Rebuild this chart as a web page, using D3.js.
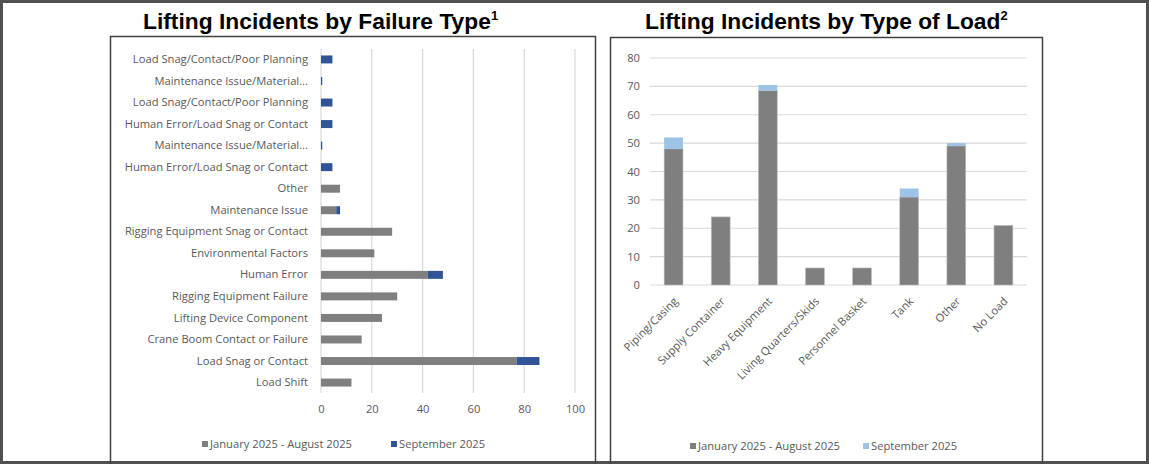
<!DOCTYPE html>
<html>
<head>
<meta charset="utf-8">
<style>
	body { margin: 0; background: #fff; }
	.lbl { font-family: "Open Sans", sans-serif; font-size: 11.2px; fill: #595959; }
	.title { font-family: "Liberation Sans", Arial, sans-serif; font-weight: bold; font-size: 22.8px; fill: #000; }
</style>
<script src="https://d3js.org/d3.v7.min.js"></script>
</head>
<body>
<svg width="1149" height="464"></svg>
<script>

// failure type chart (top to bottom)
var failureTypes = ["Load Snag/Contact/Poor Planning", "Maintenance Issue/Material...", "Load Snag/Contact/Poor Planning ",
	"Human Error/Load Snag or Contact", "Maintenance Issue/Material... ", "Human Error/Load Snag or Contact ",
	"Other", "Maintenance Issue", "Rigging Equipment Snag or Contact", "Environmental Factors", "Human Error",
	"Rigging Equipment Failure", "Lifting Device Component", "Crane Boom Contact or Failure", "Load Snag or Contact", "Load Shift"];
var failureJanAug = [0, 0, 0, 0, 0, 0, 7.5, 6, 28, 21, 42, 30, 24, 16, 77, 12];
var failureSep = [4.5, 0.5, 4.5, 4.5, 0.5, 4.5, 0, 1.5, 0, 0, 6, 0, 0, 0, 9, 0];
var failureTicks = [0, 20, 40, 60, 80, 100];

// load type chart
var loadTypes = ["Piping/Casing", "Supply Container", "Heavy Equipment", "Living Quarters/Skids", "Personnel Basket", "Tank", "Other", "No Load"];
var loadJanAug = [48, 24, 68.5, 6, 6, 31, 49, 21];
var loadSep = [4, 0, 2, 0, 0, 3, 1, 0];
var loadTicks = [0, 10, 20, 30, 40, 50, 60, 70, 80];

var seriesNames = ["January 2025 - August 2025", "September 2025"];
var gray = "#7f7f7f", darkBlue = "#2f5597", lightBlue = "#9dc3e6", grid = "#d9d9d9";

var svg = d3.select("svg");

// outer frame
svg.append("rect").attr("x", 1.5).attr("y", 1.5).attr("width", 1146).attr("height", 461)
	.attr("fill", "none").attr("stroke", "#4f5250").attr("stroke-width", 3);

// chart boxes
svg.append("rect").attr("x", 110.5).attr("y", 36.5).attr("width", 485).attr("height", 430)
	.attr("fill", "none").attr("stroke", "#404040").attr("stroke-width", 1.5);
svg.append("rect").attr("x", 610.5).attr("y", 37.5).attr("width", 432).attr("height", 430)
	.attr("fill", "none").attr("stroke", "#404040").attr("stroke-width", 1.5);

// titles
var t1 = svg.append("text").attr("class", "title").attr("x", 143).attr("y", 29);
t1.append("tspan").text("Lifting Incidents by Failure Type");
t1.append("tspan").attr("dy", -9).attr("font-size", 13).text("1");
var t2 = svg.append("text").attr("class", "title").attr("x", 645).attr("y", 29);
t2.append("tspan").text("Lifting Incidents by Type of Load");
t2.append("tspan").attr("dy", -9).attr("font-size", 13).text("2");

// ---- left: horizontal stacked bars ----
var x = d3.scaleLinear().domain([0, 100]).range([321, 575]);
var y = d3.scaleBand().domain(failureTypes).range([49, 393]).paddingInner(0.63).paddingOuter(0.3);

var g1 = svg.append("g");
g1.selectAll(".vgrid").data(failureTicks).enter().append("line")
	.attr("x1", function (d) { return x(d); })
	.attr("x2", function (d) { return x(d); })
	.attr("y1", 49).attr("y2", 393)
	.attr("stroke", grid).attr("stroke-width", 1.2);

var xAxis = g1.append("g").attr("transform", "translate(0,393)")
	.call(d3.axisBottom(x).tickValues(failureTicks).tickSize(0).tickPadding(12));
xAxis.select(".domain").remove();
xAxis.selectAll("text").attr("class", "lbl").attr("font-size", null).attr("font-family", null);

var yAxis = g1.append("g").attr("transform", "translate(308,0)")
	.call(d3.axisLeft(y).tickSize(0).tickPadding(0).tickFormat(function (d) { return d.trim(); }));
yAxis.select(".domain").remove();
yAxis.selectAll("text").attr("class", "lbl").attr("font-size", null).attr("font-family", null);

g1.selectAll(".barA").data(failureTypes).enter().append("rect")
	.attr("x", x(0))
	.attr("y", function (d) { return y(d); })
	.attr("width", function (d, i) { return x(failureJanAug[i]) - x(0); })
	.attr("height", y.bandwidth())
	.attr("fill", gray);
g1.selectAll(".barB").data(failureTypes).enter().append("rect")
	.attr("x", function (d, i) { return x(failureJanAug[i]); })
	.attr("y", function (d) { return y(d); })
	.attr("width", function (d, i) { return x(failureSep[i]) - x(0); })
	.attr("height", y.bandwidth())
	.attr("fill", darkBlue);

// legend left
var leg1 = svg.append("g");
[[202, gray, seriesNames[0]], [391, darkBlue, seriesNames[1]]].forEach(function (l) {
	leg1.append("rect").attr("x", l[0]).attr("y", 441).attr("width", 6).attr("height", 6).attr("fill", l[1]);
	leg1.append("text").attr("class", "lbl").attr("x", l[0] + 8).attr("y", 448).text(l[2]);
});

// ---- right: vertical stacked columns ----
var xb = d3.scaleBand().domain(loadTypes).range([650, 1027]).padding(0.6).paddingOuter(0.3);
var yb = d3.scaleLinear().domain([0, 80]).range([285, 58]);

var g2 = svg.append("g");
g2.selectAll(".hgrid").data(loadTicks).enter().append("line")
	.attr("x1", 650).attr("x2", 1027)
	.attr("y1", function (d) { return yb(d); })
	.attr("y2", function (d) { return yb(d); })
	.attr("stroke", grid).attr("stroke-width", 1.2);

var yAxis2 = g2.append("g").attr("transform", "translate(640,0)")
	.call(d3.axisLeft(yb).tickValues(loadTicks).tickSize(0).tickPadding(0));
yAxis2.select(".domain").remove();
yAxis2.selectAll("text").attr("class", "lbl").attr("font-size", null).attr("font-family", null);

var xAxis2 = g2.append("g").attr("transform", "translate(0,285)")
	.call(d3.axisBottom(xb).tickSize(0).tickPadding(0));
xAxis2.select(".domain").remove();
xAxis2.selectAll("text").attr("class", "lbl").attr("font-size", null).attr("font-family", null)
	.attr("text-anchor", "end").attr("dy", null).attr("y", 0)
	.attr("transform", "translate(5,17) rotate(-45)");

g2.selectAll(".colA").data(loadTypes).enter().append("rect")
	.attr("x", function (d) { return xb(d); })
	.attr("y", function (d, i) { return yb(loadJanAug[i]); })
	.attr("width", xb.bandwidth())
	.attr("height", function (d, i) { return yb(0) - yb(loadJanAug[i]); })
	.attr("fill", gray).attr("stroke", "#bfbfbf").attr("stroke-width", 0.6);
g2.selectAll(".colB").data(loadTypes).enter().append("rect")
	.attr("x", function (d) { return xb(d); })
	.attr("y", function (d, i) { return yb(loadJanAug[i] + loadSep[i]); })
	.attr("width", xb.bandwidth())
	.attr("height", function (d, i) { return yb(0) - yb(loadSep[i]); })
	.attr("fill", lightBlue);

// legend right
var leg2 = svg.append("g");
[[690, gray, seriesNames[0]], [863, lightBlue, seriesNames[1]]].forEach(function (l) {
	leg2.append("rect").attr("x", l[0]).attr("y", 443).attr("width", 6).attr("height", 6).attr("fill", l[1]);
	leg2.append("text").attr("class", "lbl").attr("x", l[0] + 8).attr("y", 450).text(l[2]);
});

</script>
</body>
</html>
